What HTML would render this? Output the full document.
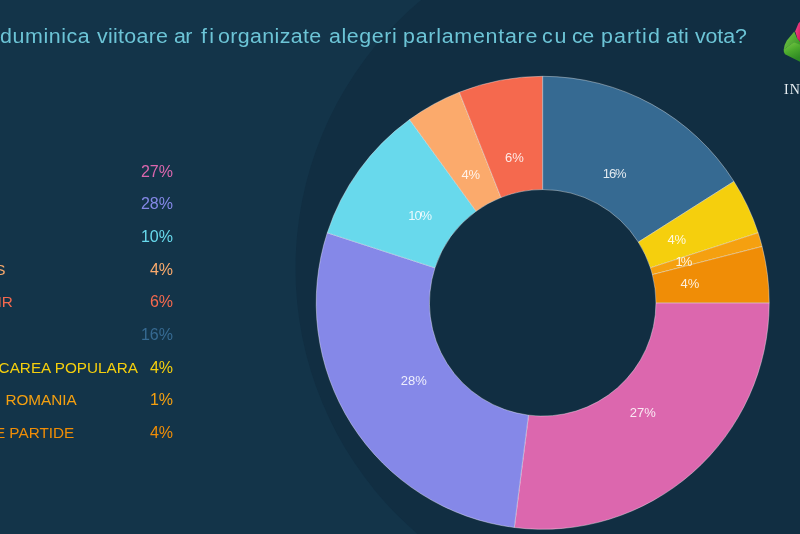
<!DOCTYPE html>
<html lang="ro">
<head>
<meta charset="utf-8">
<title>Sondaj</title>
<style>
html,body{margin:0;padding:0;}
body{width:800px;height:534px;overflow:hidden;background:#133449;position:relative;font-family:"Liberation Sans",sans-serif;}
#bg{position:absolute;left:0;top:0;width:800px;height:534px;}
#title{position:absolute;left:0;top:23.8px;width:800px;height:24px;white-space:nowrap;font-size:20px;line-height:24px;color:#6cc4d6;font-family:"Liberation Sans",sans-serif;}
#title span{position:absolute;top:0;white-space:nowrap;transform-origin:0 0;}
.row{position:absolute;left:-32px;width:205px;height:20px;line-height:20px;white-space:nowrap;font-size:15.3px;}
.row .p{position:absolute;right:0;top:0;font-size:16px;}
#brand{position:absolute;left:784px;top:82px;font-family:"Liberation Serif",serif;font-size:14px;line-height:16px;letter-spacing:1.2px;color:#e6edf1;white-space:nowrap;}
svg text{font-family:"Liberation Sans",sans-serif;font-size:13px;fill:#ffffff;fill-opacity:0.86;text-anchor:middle;}
</style>
</head>
<body>
<svg id="bg" width="800" height="534" viewBox="0 0 800 534">
<circle cx="645.3" cy="268.5" r="349.8" fill="#112e42"/>
<g stroke="#ffffff" stroke-opacity="0.42" stroke-width="0.9" stroke-linejoin="round">
<path d="M769.20 302.80A226.5 226.5 0 0 1 514.31 527.51L528.51 415.16A113.25 113.25 0 0 0 655.95 302.80Z" fill="#dc67ae"/>
<path d="M514.31 527.51A226.5 226.5 0 0 1 327.29 232.81L434.99 267.80A113.25 113.25 0 0 0 528.51 415.16Z" fill="#8588e8"/>
<path d="M327.29 232.81A226.5 226.5 0 0 1 409.57 119.56L476.13 211.18A113.25 113.25 0 0 0 434.99 267.80Z" fill="#68d9ec"/>
<path d="M409.57 119.56A226.5 226.5 0 0 1 459.32 92.21L501.01 197.50A113.25 113.25 0 0 0 476.13 211.18Z" fill="#fbaa6c"/>
<path d="M459.32 92.21A226.5 226.5 0 0 1 542.70 76.30L542.70 189.55A113.25 113.25 0 0 0 501.01 197.50Z" fill="#f5694e"/>
<path d="M542.70 76.30A226.5 226.5 0 0 1 733.94 181.44L638.32 242.12A113.25 113.25 0 0 0 542.70 189.55Z" fill="#366a92"/>
<path d="M733.94 181.44A226.5 226.5 0 0 1 758.11 232.81L650.41 267.80A113.25 113.25 0 0 0 638.32 242.12Z" fill="#f5cf0d"/>
<path d="M758.11 232.81A226.5 226.5 0 0 1 762.08 246.47L652.39 274.64A113.25 113.25 0 0 0 650.41 267.80Z" fill="#f5a010"/>
<path d="M762.08 246.47A226.5 226.5 0 0 1 769.20 302.80L655.95 302.80A113.25 113.25 0 0 0 652.39 274.64Z" fill="#f08d06"/>
</g>
<text x="642.73" y="416.65">27%</text>
<text x="413.75" y="384.90">28%</text>
<text x="419.64" y="220.11" style="letter-spacing:-1.1px">10%</text>
<text x="470.80" y="178.60">4%</text>
<text x="514.50" y="162.27">6%</text>
<text x="614.18" y="177.73" style="letter-spacing:-1.0px">16%</text>
<text x="676.80" y="244.20">4%</text>
<text x="682.90" y="265.50" style="letter-spacing:-2.0px">1%</text>
<text x="689.98" y="288.11">4%</text>
<defs>
<linearGradient id="g1" x1="0" y1="0" x2="0.4" y2="1"><stop offset="0" stop-color="#7ccc48"/><stop offset="0.55" stop-color="#4aa82c"/><stop offset="1" stop-color="#2f8a24"/></linearGradient>
<linearGradient id="g2" x1="0" y1="0" x2="1" y2="0.6"><stop offset="0" stop-color="#74c646"/><stop offset="1" stop-color="#3f9a2a"/></linearGradient>
<linearGradient id="g3" x1="0" y1="0" x2="1" y2="1"><stop offset="0" stop-color="#f0508c"/><stop offset="1" stop-color="#d8145e"/></linearGradient>
</defs>
<g id="logo">
<path d="M783.7 49.5Q784.5 44 786.8 40.4L794.3 31.6L796.6 37.2L800 41.8V46L793.8 42.4Z" fill="url(#g2)"/>
<path d="M783.7 49.5L793.8 42.2L800 44.8V61.8L785 54.2Q783.4 53 783.7 49.5Z" fill="url(#g1)"/>
<path d="M795.2 31.2L798.4 23.6L800 21.8V41.6L797.4 38.6Z" fill="url(#g3)"/>
</g>
</svg>
<div id="title"><span style="left:0.20px;letter-spacing:0.550px;transform:scaleX(1.07)">duminica</span> <span style="left:96.65px;letter-spacing:0.260px;transform:scaleX(1.07)">viitoare</span> <span style="left:174.26px;letter-spacing:-0.500px;transform:scaleX(1.07)">ar</span> <span style="left:200.72px;letter-spacing:2.240px;transform:scaleX(1.07)">fi</span> <span style="left:218.48px;letter-spacing:0.340px;transform:scaleX(1.07)">organizate</span> <span style="left:329.20px;letter-spacing:0.530px;transform:scaleX(1.07)">alegeri</span> <span style="left:402.55px;letter-spacing:0.700px;transform:scaleX(1.07)">parlamentare</span> <span style="left:541.98px;letter-spacing:1.650px;transform:scaleX(1.07)">cu</span> <span style="left:571.70px;letter-spacing:-0.350px;transform:scaleX(1.07)">ce</span> <span style="left:600.62px;letter-spacing:0.990px;transform:scaleX(1.07)">partid</span> <span style="left:665.62px;letter-spacing:0.080px;transform:scaleX(1.07)">ati</span> <span style="left:694.72px;letter-spacing:-0.110px;transform:scaleX(1.07)">vota?</span></div>
<div class="row" style="top:161.7px;color:#dc67ae">PSD<span class="p">27%</span></div>
<div class="row" style="top:194.3px;color:#8588e8">PNL<span class="p">28%</span></div>
<div class="row" style="top:226.9px;color:#68d9ec">USR<span class="p">10%</span></div>
<div class="row" style="top:259.6px;color:#fbaa6c;left:-34.5px;width:207.5px">PLUS<span class="p">4%</span></div>
<div class="row" style="top:292.2px;color:#f5694e;left:-33px;width:206px">UDMR<span class="p">6%</span></div>
<div class="row" style="top:324.9px;color:#366a92">AUR<span class="p">16%</span></div>
<div class="row" style="top:357.5px;color:#f5cf0d;left:-106.5px;width:279.5px">PARTIDUL MISCAREA POPULARA<span class="p">4%</span></div>
<div class="row" style="top:390.2px;color:#f5a010;left:-35px;width:208px;word-spacing:3px">PRO ROMANIA<span class="p">1%</span></div>
<div class="row" style="top:422.8px;color:#f08d06">ALTE PARTIDE<span class="p">4%</span></div>
<div id="brand">IN</div>
</body>
</html>
